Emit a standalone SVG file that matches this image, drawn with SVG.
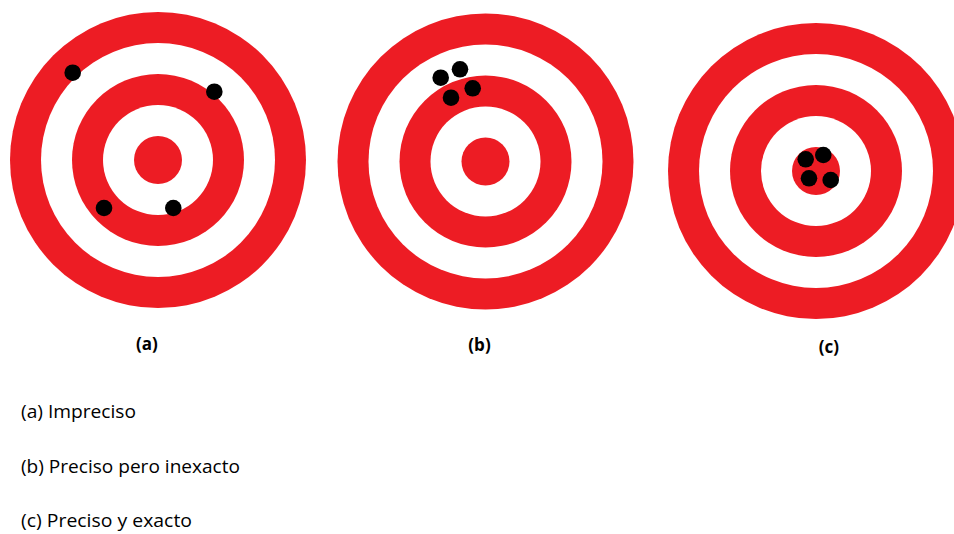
<svg xmlns="http://www.w3.org/2000/svg" width="954" height="534" viewBox="0 0 954 534">
<style>
.r{fill:#ED1C24}
.w{fill:#FFFFFF}
.d{fill:#000000}
.lbl{font-family:"Open Sans","Liberation Sans",sans-serif;font-weight:bold;font-size:17px;fill:#000;text-anchor:middle}
.txt{font-family:"Open Sans","Liberation Sans",sans-serif;font-size:18px;fill:#000}
</style>
<defs>
<g id="target">
<circle class="r" r="148"/>
<circle class="w" r="117"/>
<circle class="r" r="86"/>
<circle class="w" r="55"/>
<circle class="r" r="24"/>
</g>
</defs>
<rect width="954" height="534" fill="#FFFFFF"/>
<g id="target-a">
<use href="#target" x="158" y="160"/>
<circle class="d" cx="72.7" cy="72.7" r="8.3"/>
<circle class="d" cx="214.3" cy="91.7" r="8.3"/>
<circle class="d" cx="104" cy="208" r="8.3"/>
<circle class="d" cx="173.3" cy="208" r="8.3"/>
<text class="lbl" x="147" y="350">(a)</text>
</g>
<g id="target-b">
<use href="#target" x="485.5" y="161.5"/>
<circle class="d" cx="440.7" cy="77.7" r="8.3"/>
<circle class="d" cx="460" cy="69.3" r="8.3"/>
<circle class="d" cx="472.7" cy="88.3" r="8.3"/>
<circle class="d" cx="451" cy="97.7" r="8.3"/>
<text class="lbl" x="479.5" y="351">(b)</text>
</g>
<g id="target-c">
<use href="#target" x="816" y="171"/>
<circle class="d" cx="805.7" cy="159.3" r="8.3"/>
<circle class="d" cx="823.3" cy="155" r="8.3"/>
<circle class="d" cx="809" cy="178.3" r="8.3"/>
<circle class="d" cx="830.7" cy="180" r="8.3"/>
<text class="lbl" x="829" y="353">(c)</text>
</g>
<g id="legend">
<text class="txt" x="21" y="418" textLength="115" lengthAdjust="spacingAndGlyphs">(a) Impreciso</text>
<text class="txt" x="21" y="473" textLength="219" lengthAdjust="spacingAndGlyphs">(b) Preciso pero inexacto</text>
<text class="txt" x="21" y="527" textLength="171" lengthAdjust="spacingAndGlyphs">(c) Preciso y exacto</text>
</g>
</svg>
